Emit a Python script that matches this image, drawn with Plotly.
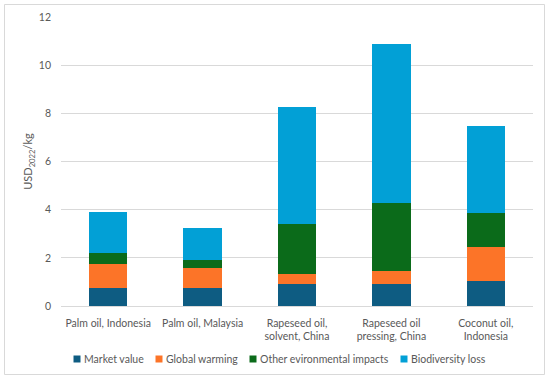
import plotly.graph_objects as go

categories = ["Palm oil, Indonesia", "Palm oil, Malaysia", "Rapeseed oil,<br>solvent, China",
              "Rapeseed oil<br>pressing, China", "Coconut oil,<br>Indonesia"]
market_value = [0.73, 0.73, 0.90, 0.90, 1.05]
global_warming = [1.03, 0.83, 0.43, 0.55, 1.39]
other_env = [0.44, 0.35, 2.09, 2.81, 1.41]
biodiversity = [1.70, 1.33, 4.84, 6.62, 3.61]
y_ticks = [0, 2, 4, 6, 8, 10, 12]

series_names = ["Market value", "Global warming", "Other evironmental impacts", "Biodiversity loss"]
series_values = [market_value, global_warming, other_env, biodiversity]
series_colors = ["#0E5C82", "#FC7428", "#0B6B1A", "#02A0D6"]

# plot area geometry (pixels) for the hand-placed legend and frame
L, R, T, B = 61, 533, 17, 306
W, H = R - L, B - T
legend_px = [77, 159, 253, 404]
legend_y = 359

font = "Lato, 'Open Sans', sans-serif"
fig = go.Figure()
for name, vals, col in zip(series_names, series_values, series_colors):
    fig.add_trace(go.Bar(x=categories, y=vals, name=name, marker_color=col,
                         marker_line_width=0, showlegend=False))

def px_x(p):
    return (p - L) / W

def px_y(p):
    return (B - p) / H

shapes = [dict(type="rect", xref="paper", yref="paper",
               x0=px_x(4.5), x1=px_x(544.5), y0=px_y(374.5), y1=px_y(4.5),
               line=dict(color="#D9D9D9", width=1), fillcolor="rgba(0,0,0,0)",
               layer="below")]
annotations = []
for name, col, cx in zip(series_names, series_colors, legend_px):
    shapes.append(dict(type="rect", xref="paper", yref="paper",
                       x0=px_x(cx - 3.5), x1=px_x(cx + 3.5),
                       y0=px_y(legend_y + 3.5), y1=px_y(legend_y - 3.5),
                       line=dict(width=0), fillcolor=col))
    annotations.append(dict(text=name, xref="paper", yref="paper",
                            x=px_x(cx + 5), y=px_y(legend_y), xanchor="left",
                            yanchor="middle", showarrow=False,
                            font=dict(size=10.5, color="#595959")))

fig.update_layout(
    barmode="stack",
    bargap=0.595,
    width=550, height=381,
    margin=dict(l=L, r=550 - R, t=T, b=381 - B),
    paper_bgcolor="white", plot_bgcolor="white",
    font=dict(family=font, size=10.5, color="#595959"),
    showlegend=False,
    xaxis=dict(showgrid=False, showline=True, linecolor="#D9D9D9", linewidth=1,
               ticks="", ticklabelstandoff=7, tickfont=dict(size=10.5), automargin=False),
    yaxis=dict(range=[0, 12], tickvals=y_ticks, showgrid=True, gridcolor="#D9D9D9",
               gridwidth=1, zeroline=False, ticks="", ticklabelstandoff=9,
               tickfont=dict(size=10.5), automargin=False,
               title=dict(text="USD<sub>2022</sub>/kg", font=dict(size=11), standoff=3)),
    shapes=shapes,
    annotations=annotations,
)

fig.write_html("out.html", config={"displayModeBar": False},
               post_script="document.body.style.margin='0';document.body.style.overflow='hidden';")
